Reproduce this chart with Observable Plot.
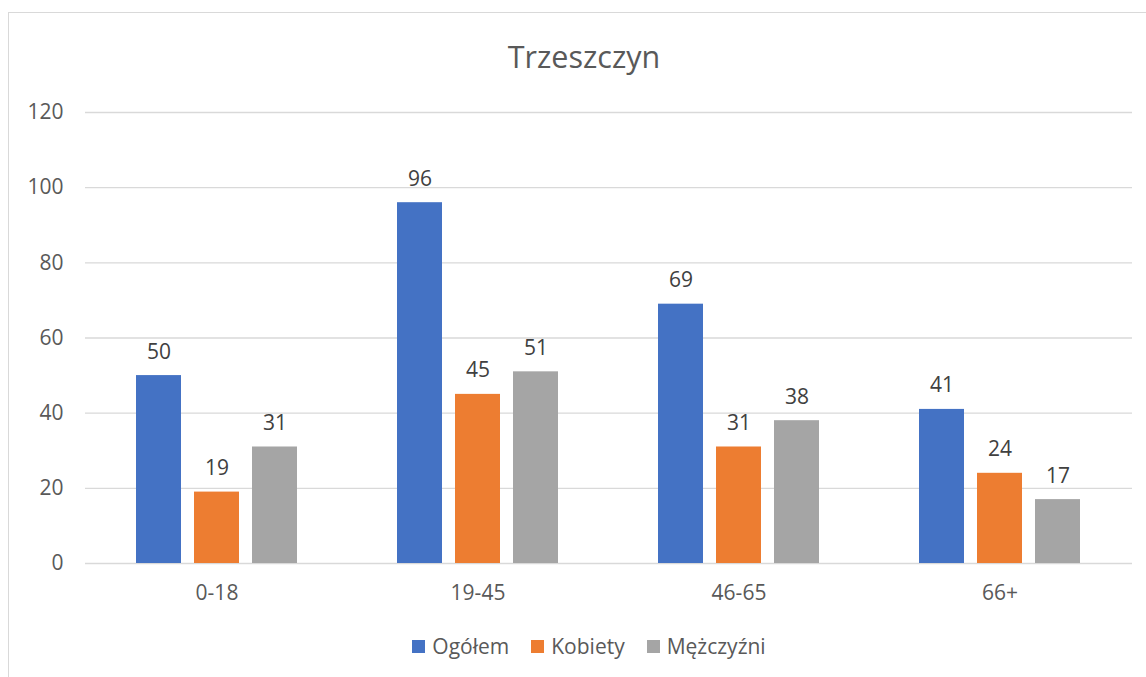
<!DOCTYPE html>
<html>
<head>
<meta charset="utf-8">
<script src="https://cdn.jsdelivr.net/npm/d3@7"></script>
<script src="https://cdn.jsdelivr.net/npm/@observablehq/plot@0.6"></script>
<style>
  html, body { margin: 0; padding: 0; background: #fff; }
  #wrap { position: relative; width: 1146px; height: 677px; overflow: hidden; font-family: "Open Sans", sans-serif; }
  #frame { position: absolute; left: 8px; top: 12px; width: 1160px; height: 720px; border: 1.5px solid #d9d9d9; box-sizing: border-box; }
  #title { position: absolute; left: 0; width: 1168px; top: 36px; text-align: center; font-size: 30.5px; color: #595959; line-height: 40px; }
  #chart { position: absolute; left: 0; top: 0; }
  #legend { position: absolute; left: 0; width: 1178px; top: 632px; display: flex; justify-content: center; gap: 22px; font-size: 21px; color: #595959; line-height: 28px; }
  .item { display: flex; align-items: center; gap: 7px; }
  .sw { width: 13px; height: 13px; display: inline-block; }
</style>
</head>
<body>
<div id="wrap">
  <div id="frame"></div>
  <div id="title">Trzeszczyn</div>
  <div id="chart"></div>
  <div id="legend"></div>
</div>
<script>
const categories = ["0-18", "19-45", "46-65", "66+"];
const seriesNames = ["Ogółem", "Kobiety", "Mężczyźni"];
const ogolem = [50, 96, 69, 41];
const kobiety = [19, 45, 31, 24];
const mezczyzni = [31, 51, 38, 17];
const yTicks = [0, 20, 40, 60, 80, 100, 120];
const colors = ["#4472C4", "#ED7D31", "#A5A5A5"];

const seriesValues = [ogolem, kobiety, mezczyzni];
const rows = [];
seriesNames.forEach((s, i) => {
  categories.forEach((c, j) => rows.push({category: c, series: s, idx: i, value: seriesValues[i][j]}));
});

const barW = 46, gap = 12, step = barW + gap;
const marks = [
  Plot.ruleY(yTicks.filter(d => d > 0), {stroke: "#d9d9d9", strokeWidth: 1.3}),
  Plot.ruleY([0], {stroke: "#d9d9d9", strokeWidth: 1.5})
];
seriesNames.forEach((s, i) => {
  const data = rows.filter(r => r.idx === i);
  marks.push(Plot.barY(data, {
    x: "category", y: "value", fill: colors[i],
    insetLeft: i * step, insetRight: (2 - i) * step
  }));
  marks.push(Plot.text(data, {
    x: "category", y: "value", text: d => String(d.value),
    dx: (i - 1) * step, dy: -17, lineAnchor: "bottom",
    fill: "#404040", fontSize: 21
  }));
});

const chart = Plot.plot({
  width: 1146,
  height: 620,
  marginLeft: 85,
  marginRight: 14,
  marginTop: 112,
  marginBottom: 57,
  style: {fontFamily: "Open Sans, sans-serif", fontSize: "21px", color: "#595959", background: "transparent", overflow: "visible"},
  x: {domain: categories, paddingInner: 0.382, paddingOuter: 0.191, tickSize: 0, tickPadding: 22, label: null},
  y: {domain: [0, 120], ticks: yTicks, tickSize: 0, tickPadding: 22, label: null},
  marks
});
document.getElementById("chart").appendChild(chart);

const legend = document.getElementById("legend");
seriesNames.forEach((s, i) => {
  const item = document.createElement("div");
  item.className = "item";
  const sw = document.createElement("span");
  sw.className = "sw";
  sw.style.background = colors[i];
  const t = document.createElement("span");
  t.textContent = s;
  item.appendChild(sw);
  item.appendChild(t);
  legend.appendChild(item);
});
</script>
</body>
</html>
